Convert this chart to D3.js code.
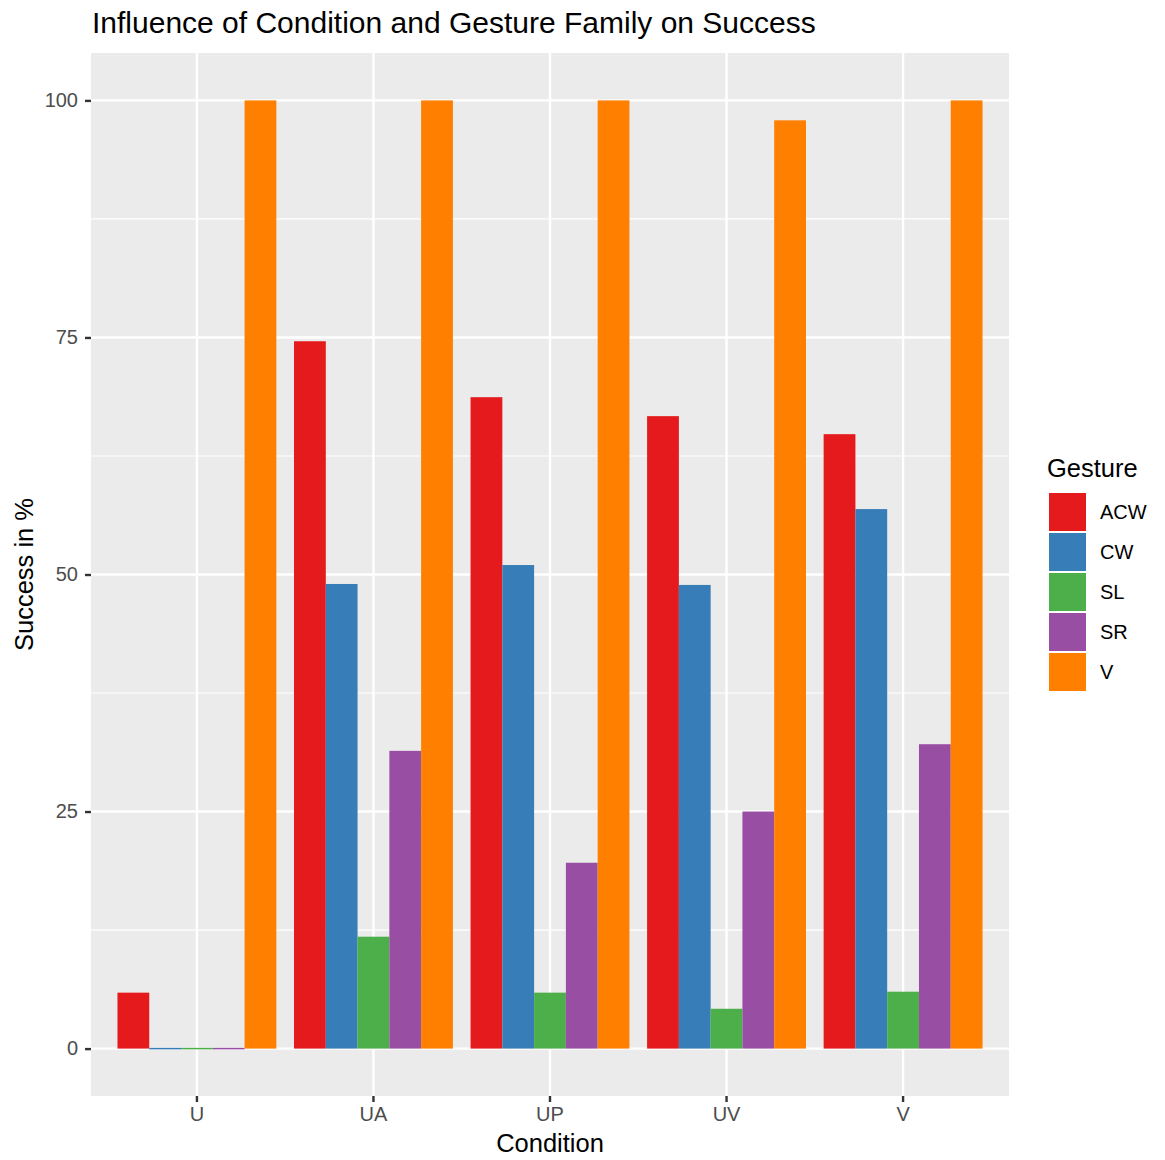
<!DOCTYPE html>
<html>
<head>
<meta charset="utf-8">
<script src="https://cdn.jsdelivr.net/npm/d3@7"></script>
<style>
  body { margin: 0; background: #fff; }
  text { font-family: "Liberation Sans", Arial, Helvetica, sans-serif; }
</style>
</head>
<body>
<div id="chart"></div>
<script>
// Daten
const conditions = ["U", "UA", "UP", "UV", "V"];
const gestures = ["ACW", "CW", "SL", "SR", "V"];
const gestureColors = ["#E41A1C", "#377EB8", "#4DAF4A", "#984EA3", "#FF7F00"];

const acwValues = [5.9, 74.6, 68.7, 66.7, 64.8];
const cwValues  = [0, 49.0, 51.0, 48.9, 56.9];
const slValues  = [0, 11.8, 5.9, 4.2, 6.0];
const srValues  = [0, 31.4, 19.6, 25.0, 32.1];
const vValues   = [100, 100, 100, 97.9, 100];

const yTicks = [0, 25, 50, 75, 100];
const yMinorTicks = [12.5, 37.5, 62.5, 87.5];

const seriesValues = { ACW: acwValues, CW: cwValues, SL: slValues, SR: srValues, V: vValues };

const data = conditions.flatMap((c, i) =>
  gestures.map(g => ({ condition: c, gesture: g, value: seriesValues[g][i] })));

const width = 1165, height = 1160;
const panel = { left: 91, top: 53, right: 1009, bottom: 1096 };
const fontFamily = "'Liberation Sans', Arial, sans-serif";

const colorScale = d3.scaleOrdinal().domain(gestures).range(gestureColors);

// x wie bei ggplot: 0.9 Balkenbreite, 0.6 Erweiterung an den Rändern
const xScale = d3.scaleBand()
  .domain(conditions)
  .range([panel.left, panel.right])
  .paddingInner(0.1)
  .paddingOuter(0.15);

const xInner = d3.scaleBand()
  .domain(gestures)
  .range([0, xScale.bandwidth()])
  .padding(0);

const yScale = d3.scaleLinear()
  .domain([-5, 105])
  .range([panel.bottom, panel.top]);

const svg = d3.select("#chart")
  .append("svg")
  .attr("width", width)
  .attr("height", height);

// Panel-Hintergrund
svg.append("rect")
  .attr("x", panel.left)
  .attr("y", panel.top)
  .attr("width", panel.right - panel.left)
  .attr("height", panel.bottom - panel.top)
  .attr("fill", "#EBEBEB");

// Gitterlinien
svg.append("g")
  .selectAll("line")
  .data(yMinorTicks)
  .join("line")
  .attr("x1", panel.left).attr("x2", panel.right)
  .attr("y1", d => yScale(d)).attr("y2", d => yScale(d))
  .attr("stroke", "#fff").attr("stroke-width", 1.2);

svg.append("g")
  .selectAll("line")
  .data(yTicks)
  .join("line")
  .attr("x1", panel.left).attr("x2", panel.right)
  .attr("y1", d => yScale(d)).attr("y2", d => yScale(d))
  .attr("stroke", "#fff").attr("stroke-width", 2.4);

svg.append("g")
  .selectAll("line")
  .data(conditions)
  .join("line")
  .attr("x1", d => xScale(d) + xScale.bandwidth() / 2)
  .attr("x2", d => xScale(d) + xScale.bandwidth() / 2)
  .attr("y1", panel.top).attr("y2", panel.bottom)
  .attr("stroke", "#fff").attr("stroke-width", 2.4);

// Balken (Nullwerte als dünne Linie wie bei ggplot)
svg.append("g")
  .selectAll("rect")
  .data(data)
  .join("rect")
  .attr("x", d => xScale(d.condition) + xInner(d.gesture))
  .attr("width", xInner.bandwidth())
  .attr("y", d => {
    const h = yScale(0) - yScale(d.value);
    return h < 1.5 ? yScale(0) - 0.75 : yScale(d.value);
  })
  .attr("height", d => Math.max(1.5, yScale(0) - yScale(d.value)))
  .attr("fill", d => colorScale(d.gesture));

// Achsen
const leftAxis = d3.axisLeft(yScale)
  .tickValues(yTicks)
  .tickSize(6)
  .tickPadding(7);

const yAxisG = svg.append("g")
  .attr("transform", `translate(${panel.left}, 0)`)
  .call(leftAxis);
yAxisG.select(".domain").remove();
yAxisG.selectAll(".tick line").attr("stroke", "#333").attr("stroke-width", 2.4);
yAxisG.selectAll(".tick text")
  .attr("fill", "#4D4D4D")
  .style("font-size", "20px")
  .style("font-family", fontFamily);

const bottomAxis = d3.axisBottom(xScale)
  .tickSize(6)
  .tickPadding(5);

const xAxisG = svg.append("g")
  .attr("transform", `translate(0, ${panel.bottom})`)
  .call(bottomAxis);
xAxisG.select(".domain").remove();
xAxisG.selectAll(".tick line").attr("stroke", "#333").attr("stroke-width", 2.4);
xAxisG.selectAll(".tick text")
  .attr("fill", "#4D4D4D")
  .style("font-size", "20px")
  .style("font-family", fontFamily);

// Titel
svg.append("text")
  .attr("x", 92)
  .attr("y", 33)
  .style("font-size", "30px")
  .attr("fill", "#000")
  .text("Influence of Condition and Gesture Family on Success");

svg.append("text")
  .attr("x", (panel.left + panel.right) / 2)
  .attr("y", 1152)
  .attr("text-anchor", "middle")
  .style("font-size", "25.5px")
  .text("Condition");

svg.append("text")
  .attr("transform", `translate(33, ${(panel.top + panel.bottom) / 2}) rotate(-90)`)
  .attr("text-anchor", "middle")
  .style("font-size", "25.5px")
  .text("Success in %");

// Legende
const legend = svg.append("g")
  .attr("transform", "translate(1047, 0)");

legend.append("text")
  .attr("x", 0)
  .attr("y", 477)
  .style("font-size", "25.5px")
  .text("Gesture");

const keys = legend.selectAll(".key")
  .data(gestures)
  .join("g")
  .attr("class", "key")
  .attr("transform", (d, i) => `translate(2, ${493 + i * 40})`);

keys.append("rect")
  .attr("width", 37)
  .attr("height", 38)
  .attr("fill", d => colorScale(d));

keys.append("text")
  .attr("x", 51)
  .attr("y", 19)
  .attr("dy", "0.35em")
  .style("font-size", "20px")
  .text(d => d);
</script>
</body>
</html>
